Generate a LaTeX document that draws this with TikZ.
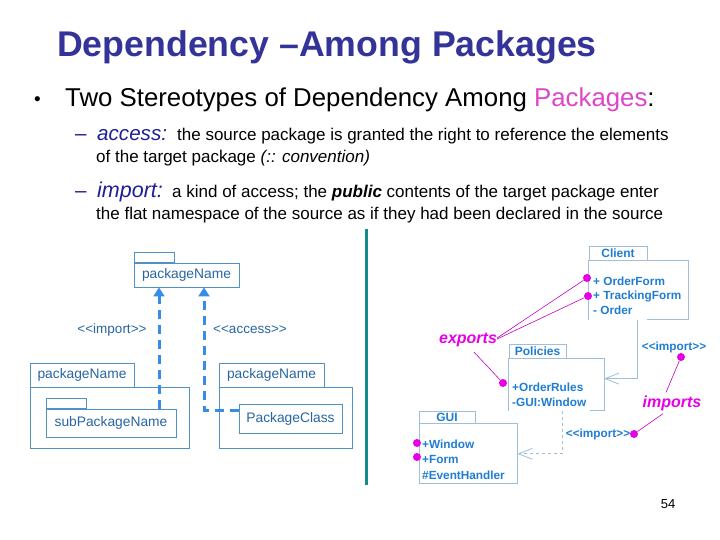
\documentclass[tikz,border=0pt]{standalone}
\usepackage{fontspec}
\setmainfont{Liberation Sans}[Ligatures=TeXOff]
\usetikzlibrary{arrows.meta,positioning}

\definecolor{titleblue}{RGB}{51,51,153}
\definecolor{navyblue}{RGB}{30,30,150}
\definecolor{pkpink}{RGB}{220,70,200}
\definecolor{septeal}{RGB}{20,140,140}
\definecolor{pkgline}{RGB}{80,145,200}
\definecolor{pkgtext}{RGB}{40,100,160}
\definecolor{depblue}{RGB}{55,140,230}
\definecolor{umlline}{RGB}{160,190,215}
\definecolor{umltext}{RGB}{30,125,210}
\definecolor{notemag}{RGB}{230,0,230}

\tikzset{
  txt/.style={anchor=base west, inner sep=0pt},
  pkgbox/.style={draw=pkgline, line width=0.9pt, rectangle, inner sep=0pt,
    text=pkgtext, font=\fontsize{13.8}{16}\selectfont},
  deparrow/.style={depblue, line width=3pt, dash pattern=on 9pt off 6pt,
    -{Triangle[length=9pt,width=11pt]}},
  deplabel/.style={inner sep=0pt, text=pkgtext, font=\fontsize{13.5}{16}\selectfont},
  umlbox/.style={rectangle, inner sep=0pt},
  umlname/.style={draw=umlline, line width=0.8pt, rectangle, inner sep=0pt,
    text=umltext, font=\bfseries\fontsize{12}{14}\selectfont},
  member/.style={anchor=west, inner sep=0pt, text=umltext,
    font=\bfseries\fontsize{11.8}{14}\selectfont},
  stereo/.style={inner sep=0pt, text=umltext, font=\bfseries\fontsize{11.8}{14}\selectfont},
  umlconn/.style={umlline, line width=0.8pt},
  dot/.style={circle, fill=notemag, inner sep=0pt, minimum size=8pt},
  note/.style={inner sep=0pt, text=notemag, font=\bfseries\itshape\fontsize{16}{18}\selectfont},
  noteline/.style={notemag!85!black, line width=0.6pt}
}

\begin{document}
\begin{tikzpicture}[x=1pt,y=-1pt]
  \useasboundingbox (0,0) rectangle (720,540);

  % Title and text
  \node[txt, text=titleblue, font=\bfseries\fontsize{35.7}{40}\selectfont] (title) at (57,57) {Dependency –Among Packages};
  \node[txt, font=\fontsize{19}{22}\selectfont] (bullet) at (34,106) {•};
  \node[txt, font=\fontsize{25.8}{30}\selectfont] (intro) at (65,107) {Two Stereotypes of Dependency Among \textcolor{pkpink}{Packages}:};

  \node[txt, text=navyblue, font=\fontsize{20.6}{24}\selectfont] (dasha) at (75,141) {–};
  \node[txt, text=navyblue, font=\itshape\fontsize{20.6}{24}\selectfont] (access) at (97,141) {access:};
  \node[txt, font=\fontsize{17}{20}\selectfont] (accessa) at (177,141) {the source package is granted the right to reference the elements};
  \node[txt, font=\fontsize{17}{20}\selectfont] (accessb) at (96,163) {of the target package \textit{(:: convention)}};

  \node[txt, text=navyblue, font=\fontsize{20.6}{24}\selectfont] (dashb) at (75,197) {–};
  \node[txt, text=navyblue, font=\itshape\fontsize{21.5}{24}\selectfont] (import) at (97,197) {import:};
  \node[txt, font=\fontsize{17}{20}\selectfont] (importa) at (172,197) {a kind of access; the \textbf{\textit{public}} contents of the target package enter};
  \node[txt, font=\fontsize{17}{20}\selectfont] (importb) at (96,219) {the flat namespace of the source as if they had been declared in the source};

  % Separator
  \draw[septeal, line width=3pt] (366,229) -- (366,485);

  % Left diagram: packages
  \node[pkgbox, minimum width=105, minimum height=24] (top) at (186.5,275) {packageName};
  \node[pkgbox, minimum width=40, minimum height=10, anchor=south west] (toptab) at (top.north west) {};

  \node[pkgbox, minimum width=104, minimum height=24] (imptab) at (82,375) {packageName};
  \node[pkgbox, minimum width=159, minimum height=61, anchor=north west] (imppkg) at (imptab.south west) {};
  \node[pkgbox, minimum width=130, minimum height=28] (sub) at (111,423) {subPackageName};
  \node[pkgbox, minimum width=40, minimum height=10, anchor=south west] (subtab) at (sub.north west) {};

  \node[pkgbox, minimum width=105, minimum height=24] (acctab) at (271.5,375) {packageName};
  \node[pkgbox, minimum width=133, minimum height=61, anchor=north west] (accpkg) at (acctab.south west) {};
  \node[pkgbox, minimum width=103, minimum height=29] (cls) at (290.5,418.5) {PackageClass};

  \node[deplabel] (implabel) at (112,330) {<<import>>};
  \node[deplabel] (acclabel) at (250,330) {<<access>>};

  \draw[deparrow] ([xshift=48pt]sub.north) -- ([xshift=48pt]sub.north |- top.south);
  \draw[deparrow] ([yshift=8.5pt]cls.west) -| ([xshift=17.5pt]top.south);

  % Right diagram: Client
  \node[umlname, minimum width=58, minimum height=14] (clienttab) at (618,253) {Client};
  \node[umlbox, minimum width=99, minimum height=59, anchor=north west] (client) at (clienttab.south west) {};
  \draw[umlconn] (client.south west) -- (client.north west) -- (client.north east)
    -- (client.south east) -- ++(-41,0);
  \node[member] (orderform) at (593,281) {+ OrderForm};
  \node[member] (trackform) at (593,296) {+ TrackingForm};
  \node[member] (order) at (593,310) {- Order};
  \node[dot] (ofdot) at (587,278) {};
  \node[dot] (tfdot) at (588,296) {};

  % Policies
  \node[umlname, minimum width=57, minimum height=14] (policytab) at (537.5,351) {Policies};
  \node[umlbox, minimum width=95, minimum height=52, anchor=north west] (policies) at (policytab.south west) {};
  \draw[umlconn] (policies.south west) -- (policies.north west) -- (policies.north east)
    -- (policies.south east) -- ++(-14,0);
  \node[member] (orules) at (512,387) {+OrderRules};
  \node[member] (guiwin) at (512,402) {-GUI:Window};
  \node[dot] (ordot) at (503,383) {};

  % GUI
  \node[umlname, minimum width=56, minimum height=12] (guitab) at (447,417) {GUI};
  \node[umlbox, draw=umlline, line width=0.8pt, minimum width=98, minimum height=60, anchor=north west] (gui) at (guitab.south west) {};
  \node[member] (window) at (422,444) {+Window};
  \node[member] (form) at (422,459) {+Form};
  \node[member] (evhandler) at (422,475) {\#EventHandler};
  \node[dot] (windot) at (417,443) {};
  \node[dot] (formdot) at (417,457) {};

  % Imports between packages
  \draw[umlconn, -{Straight Barb[length=14pt,width=11pt]}] ([xshift=-51pt]client.south east) |- ([yshift=6pt]policies.east);
  \draw[umlconn, dashed, -{Straight Barb[length=14pt,width=11pt]}] ([xshift=-42pt]policies.south east) |- (gui.east);

  \node[stereo] (implbla) at (674,347) {<<import>>};
  \node[stereo] (implblb) at (598,434) {<<import>>};
  \node[dot] (impadot) at (681,357) {};
  \node[dot] (impbdot) at (634,434) {};

  % Notes
  \node[note] (exports) at (468,340) {exports};
  \draw[noteline] ([yshift=2pt]exports.east) -- (ofdot);
  \draw[noteline] ([yshift=1pt]exports.east) -- (tfdot);
  \draw[noteline] ([xshift=6pt,yshift=-5pt]exports.south) -- (ordot);

  \node[note] (imports) at (672,403) {imports};
  \draw[noteline] (impadot) -- ([xshift=-6pt,yshift=3pt]imports.north);
  \draw[noteline] ([xshift=-9pt,yshift=-3pt]imports.south) -- (impbdot);

  % Page number
  \node[inner sep=0pt, font=\fontsize{13}{15}\selectfont] (pagenum) at (668,504) {54};
\end{tikzpicture}
\end{document}
